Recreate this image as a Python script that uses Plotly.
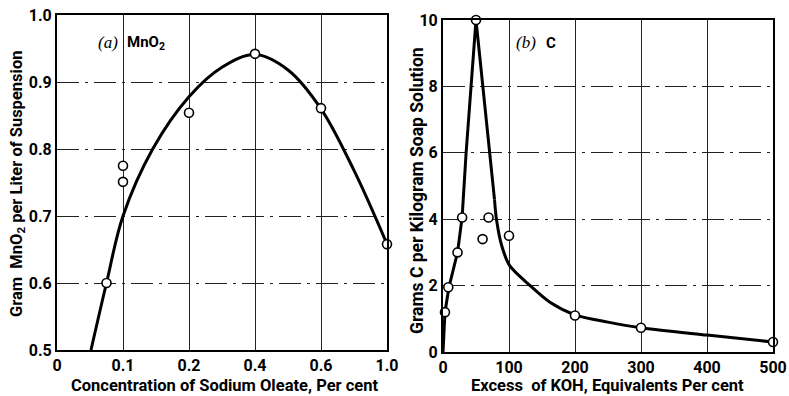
import numpy as np
import plotly.graph_objects as go

# ---------------- data: panel (a) MnO2 ----------------
a_tick_vals = [0, 0.1, 0.2, 0.4, 0.6, 1.0]
a_tick_text = ["0", "0.1", "0.2", "0.4", "0.6", "1.0"]
a_pts_x = [0.075, 0.1, 0.1, 0.2, 0.4, 0.6, 1.0]
a_pts_y = [0.60, 0.775, 0.751, 0.854, 0.942, 0.861, 0.658]
a_curve_x = [0.0515, 0.075, 0.1, 0.145, 0.2, 0.3, 0.4, 0.5, 0.6, 0.8, 1.0]
a_curve_y = [0.50, 0.60, 0.70, 0.80, 0.878, 0.922, 0.941, 0.918, 0.86, 0.768, 0.658]
a_y_ticks = [0.5, 0.6, 0.7, 0.8, 0.9, 1.0]

# ---------------- data: panel (b) C ----------------
b_pts_x = [3, 8, 22, 29, 50, 60, 69, 100, 200, 300, 500]
b_pts_y = [1.2, 1.95, 3.0, 4.05, 10.0, 3.4, 4.05, 3.5, 1.1, 0.73, 0.3]
b_steep_x = [0, 3, 9, 22, 29, 35, 50, 70, 78]
b_steep_y = [0.0, 1.2, 1.95, 3.0, 4.06, 6.0, 10.0, 6.06, 4.6]
b_tail_x = [78, 81, 89, 101, 132, 162, 200, 250, 300, 400, 500]
b_tail_y = [4.6, 4.0, 3.2, 2.6, 2.0, 1.5, 1.12, 0.9, 0.73, 0.51, 0.3]
b_x_ticks = [0, 100, 200, 300, 400, 500]
b_y_ticks = [0, 2, 4, 6, 8, 10]

# nonuniform x scale of panel (a): equally spaced ticks
a_pos = list(range(len(a_tick_vals)))
def a_scale(v):
    return np.interp(v, a_tick_vals, a_pos)

FONT = "Roboto, Liberation Sans, sans-serif"
SERIF = "Liberation Serif, DejaVu Serif, serif"

fig = go.Figure()

line_style = dict(color="black", width=3)
marker_style = dict(size=9, color="white", line=dict(color="black", width=1.6))

fig.add_trace(go.Scatter(x=a_scale(a_curve_x), y=a_curve_y, mode="lines",
                         line=dict(shape="spline", smoothing=1.0, **line_style),
                         xaxis="x", yaxis="y", showlegend=False, hoverinfo="skip"))
fig.add_trace(go.Scatter(x=a_scale(a_pts_x), y=a_pts_y, mode="markers",
                         marker=marker_style, cliponaxis=False,
                         xaxis="x", yaxis="y", showlegend=False))

fig.add_trace(go.Scatter(x=b_steep_x, y=b_steep_y, mode="lines", line=line_style,
                         xaxis="x2", yaxis="y2", showlegend=False, hoverinfo="skip"))
fig.add_trace(go.Scatter(x=b_tail_x, y=b_tail_y, mode="lines",
                         line=dict(shape="spline", smoothing=0.8, **line_style),
                         xaxis="x2", yaxis="y2", showlegend=False, hoverinfo="skip"))
fig.add_trace(go.Scatter(x=b_pts_x, y=b_pts_y, mode="markers",
                         marker=marker_style, cliponaxis=False,
                         xaxis="x2", yaxis="y2", showlegend=False))

W, H = 789, 396
def px(x):
    return x / W
def py(y):
    return 1 - y / H

tickfont = dict(family=FONT, size=16, color="black", weight="bold")
common_x = dict(showline=True, linecolor="black", linewidth=2, mirror=True,
                showgrid=True, gridcolor="#222", gridwidth=1, griddash="solid",
                zeroline=False, ticks="", tickfont=tickfont, automargin=False)
common_y = dict(showline=True, linecolor="black", linewidth=2, mirror=True,
                showgrid=True, gridcolor="#222", gridwidth=1,
                griddash="22px,6px,3px,6px",
                zeroline=False, ticks="", tickfont=tickfont, automargin=False)

fig.update_layout(
    width=W, height=H,
    margin=dict(l=0, r=0, t=0, b=0, pad=0, autoexpand=False),
    paper_bgcolor="white", plot_bgcolor="white",
    xaxis=dict(domain=[px(57), px(387)], range=[0, 5], tickvals=a_pos,
               ticktext=a_tick_text, anchor="y", **common_x),
    yaxis=dict(domain=[py(350), py(15)], range=[0.5, 1.0], tickvals=a_y_ticks,
               ticktext=["%.1f" % v for v in a_y_ticks], anchor="x", **common_y),
    xaxis2=dict(domain=[px(443), px(773)], range=[0, 500], tickvals=b_x_ticks,
                anchor="y2", **common_x),
    yaxis2=dict(domain=[py(352), py(20)], range=[0, 10], tickvals=b_y_ticks,
                anchor="x2", **common_y),
)

ann = []
def txt(text, x, y, size=16.5, angle=0, family=FONT, xanchor="center"):
    ann.append(dict(text=text, x=px(x), y=py(y), xref="paper", yref="paper",
                    showarrow=False, textangle=angle, xanchor=xanchor, yanchor="middle",
                    font=dict(family=family, size=size, color="black")))

txt("<b>Gram  MnO<sub>2</sub> per Liter of Suspension</b>", 17, 184, size=16.5, angle=-90)
txt("<b>Concentration of Sodium Oleate, Per cent</b>", 224, 385)
txt("<b>Grams C per Kilogram Soap Solution</b>", 417, 191, size=17.5, angle=-90)
txt("<b>Excess  of KOH, Equivalents Per cent</b>", 607, 385)
txt("<i>(a)</i>", 120, 43, size=17, family=SERIF, xanchor="right")
txt("<b>MnO<sub>2</sub></b>", 125, 43, size=15, xanchor="left")
txt("<i>(b)</i>", 538, 43, size=17, family=SERIF, xanchor="right")
txt("<b>C</b>", 544, 43, size=15, xanchor="left")
fig.update_layout(annotations=ann)

fig.write_html("out.html",
               post_script="document.body.style.margin='0';document.body.style.overflow='hidden';")
